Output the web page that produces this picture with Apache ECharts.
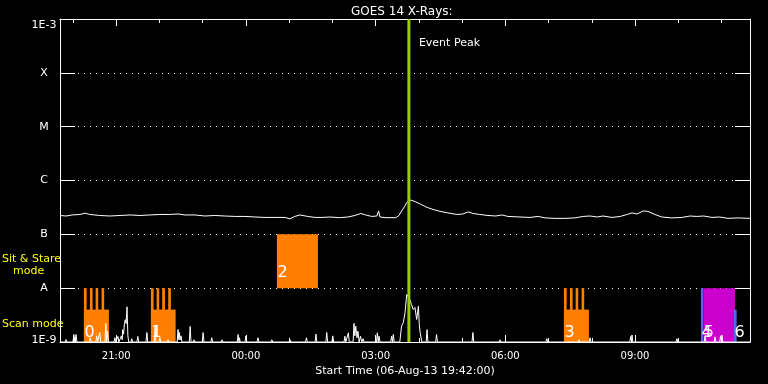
<!DOCTYPE html>
<html><head><meta charset="utf-8">
<script src="https://cdn.jsdelivr.net/npm/echarts@6/dist/echarts.min.js"></script>
<style>html,body{margin:0;padding:0;background:#000}#c{width:768px;height:384px}</style>
</head><body><div id="c"></div>
<script>
// ---- axis definitions (hours counted from 06-Aug-13 00:00) ----
const startHour = 19.7;   // 19:42
const endHour = 35.66;    // ~11:40 next day
const majorHours = [21, 24, 27, 30, 33];
const minorHours = [20, 21, 22, 23, 24, 25, 26, 27, 28, 29, 30, 31, 32, 33, 34, 35];
const yLevels = [-9, -8, -7, -6, -5, -4, -3];
const yLabels = ['1E-9', 'A', 'B', 'C', 'M', 'X', '1E-3'];

// ---- GOES flux (W/m^2) ----
const fluxData = [[19.70,2.24e-7],[19.84,2.19e-7],[19.98,2.29e-7],[20.16,2.34e-7],[20.28,2.47e-7],[20.39,2.34e-7],[20.62,2.24e-7],[20.85,2.19e-7],[21.09,2.24e-7],[21.32,2.29e-7],[21.55,2.24e-7],[21.78,2.29e-7],[22.01,2.34e-7],[22.24,2.34e-7],[22.43,2.39e-7],[22.59,2.29e-7],[22.82,2.29e-7],[23.05,2.19e-7],[23.28,2.24e-7],[23.51,2.19e-7],[23.74,2.15e-7],[23.98,2.15e-7],[24.21,2.10e-7],[24.44,2.06e-7],[24.67,2.06e-7],[24.90,2.06e-7],[25.02,1.94e-7],[25.13,2.15e-7],[25.25,2.29e-7],[25.43,2.15e-7],[25.60,2.06e-7],[25.76,2.06e-7],[25.94,2.10e-7],[26.17,2.04e-7],[26.36,2.10e-7],[26.52,2.24e-7],[26.66,2.44e-7],[26.77,2.29e-7],[26.91,2.15e-7],[27.03,2.19e-7],[27.07,2.72e-7],[27.10,2.10e-7],[27.24,2.04e-7],[27.47,2.04e-7],[27.54,2.24e-7],[27.61,2.78e-7],[27.68,3.37e-7],[27.72,3.92e-7],[27.77,4.33e-7],[27.84,4.27e-7],[27.93,4.00e-7],[28.03,3.67e-7],[28.19,3.16e-7],[28.33,2.90e-7],[28.49,2.67e-7],[28.67,2.50e-7],[28.88,2.34e-7],[29.02,2.39e-7],[29.14,2.61e-7],[29.25,2.44e-7],[29.41,2.34e-7],[29.60,2.24e-7],[29.78,2.19e-7],[29.92,2.29e-7],[30.06,2.15e-7],[30.34,2.10e-7],[30.57,2.06e-7],[30.76,2.15e-7],[30.92,2.02e-7],[31.15,1.98e-7],[31.38,1.98e-7],[31.61,2.02e-7],[31.80,2.15e-7],[31.96,2.19e-7],[32.12,2.10e-7],[32.26,2.19e-7],[32.47,2.06e-7],[32.66,2.15e-7],[32.82,2.34e-7],[32.93,2.50e-7],[33.05,2.39e-7],[33.19,2.72e-7],[33.30,2.67e-7],[33.46,2.34e-7],[33.62,2.10e-7],[33.85,2.02e-7],[34.09,2.06e-7],[34.27,2.19e-7],[34.43,2.15e-7],[34.59,2.19e-7],[34.78,2.06e-7],[34.96,2.10e-7],[35.15,1.98e-7],[35.38,2.02e-7],[35.66,1.98e-7]];

// ---- low-level spiky signal ----
const lowData = [[19.70,1e-9],[19.82,1e-9],[19.84,1.11e-9],[19.86,1e-9],[20.00,1e-9],[20.02,1.38e-9],[20.04,1e-9],[20.05,1.25e-9],[20.06,1e-9],[20.07,1.38e-9],[20.09,1e-9],[20.38,1e-9],[20.40,1.2e-9],[20.42,1e-9],[20.53,1e-9],[20.55,1.3e-9],[20.57,1e-9],[20.60,1e-9],[20.62,1.5e-9],[20.64,1e-9],[20.74,1e-9],[20.76,2.21e-9],[20.78,1e-9],[20.80,1.6e-9],[20.82,1e-9],[20.95,1e-9],[20.97,1.2e-9],[20.99,1e-9],[21.02,1e-9],[21.04,1.27e-9],[21.06,1e-9],[21.10,1e-9],[21.12,1.3e-9],[21.14,1.1e-9],[21.15,1.7e-9],[21.17,1.4e-9],[21.19,2.2e-9],[21.21,2.6e-9],[21.23,2.2e-9],[21.25,4.5e-9],[21.27,1.3e-9],[21.29,1e-9],[21.34,1e-9],[21.36,1.15e-9],[21.38,1e-9],[21.48,1e-9],[21.50,1.27e-9],[21.52,1e-9],[21.69,1e-9],[21.71,1.5e-9],[21.73,1e-9],[21.88,1e-9],[21.90,1.94e-9],[21.92,1e-9],[21.99,1e-9],[22.01,1.2e-9],[22.03,1e-9],[22.18,1e-9],[22.20,1.1e-9],[22.22,1e-9],[22.41,1e-9],[22.43,1.71e-9],[22.45,1.1e-9],[22.46,1.5e-9],[22.48,1.1e-9],[22.50,1.3e-9],[22.52,1e-9],[22.69,1e-9],[22.71,1.94e-9],[22.73,1e-9],[22.78,1e-9],[22.80,1.1e-9],[22.82,1e-9],[22.99,1e-9],[23.01,1.5e-9],[23.03,1e-9],[23.19,1e-9],[23.21,1.2e-9],[23.23,1e-9],[23.43,1e-9],[23.45,1.1e-9],[23.47,1e-9],[23.80,1e-9],[23.82,1.38e-9],[23.84,1e-9],[23.85,1.2e-9],[23.87,1e-9],[23.98,1e-9],[24.00,1.3e-9],[24.02,1e-9],[24.26,1e-9],[24.28,1.2e-9],[24.30,1e-9],[24.58,1e-9],[24.60,1.1e-9],[24.62,1e-9],[25.00,1e-9],[25.02,1.1e-9],[25.04,1e-9],[25.38,1e-9],[25.40,1.2e-9],[25.42,1e-9],[25.60,1e-9],[25.62,1.4e-9],[25.64,1e-9],[25.85,1e-9],[25.87,1.5e-9],[25.89,1e-9],[25.99,1e-9],[26.01,1.3e-9],[26.03,1e-9],[26.27,1e-9],[26.29,1.28e-9],[26.31,1e-9],[26.35,1e-9],[26.37,1.48e-9],[26.39,1e-9],[26.48,1e-9],[26.50,2.21e-9],[26.52,1.3e-9],[26.54,1.97e-9],[26.57,1.2e-9],[26.59,1.59e-9],[26.62,1e-9],[26.65,1.28e-9],[26.68,1e-9],[26.71,1.15e-9],[26.73,1e-9],[27.02,1e-9],[27.04,1.48e-9],[27.06,1e-9],[27.08,1.28e-9],[27.10,1e-9],[27.35,1e-9],[27.37,1.28e-9],[27.39,1e-9],[27.41,1.38e-9],[27.43,1e-9],[27.56,1e-9],[27.60,1.97e-9],[27.64,2.28e-9],[27.68,3.49e-9],[27.72,7.63e-9],[27.75,7.0e-9],[27.79,6.16e-9],[27.83,4.97e-9],[27.87,4.01e-9],[27.91,4.38e-9],[27.95,2.62e-9],[27.99,4.63e-9],[28.01,2.11e-9],[28.03,1.5e-9],[28.07,1e-9],[28.17,1e-9],[28.19,1.7e-9],[28.21,1e-9],[28.39,1e-9],[28.41,1.38e-9],[28.43,1e-9],[29.23,1e-9],[29.25,1.5e-9],[29.27,1e-9],[29.86,1e-9],[29.88,1.1e-9],[29.90,1e-9],[30.94,1e-9],[30.96,1.15e-9],[30.98,1e-9],[31.68,1e-9],[31.70,1.1e-9],[31.72,1e-9],[31.94,1e-9],[31.96,1.2e-9],[31.98,1e-9],[32.88,1e-9],[32.90,1.27e-9],[32.92,1e-9],[32.93,1.35e-9],[32.95,1e-9],[33.95,1e-9],[33.97,1.15e-9],[33.99,1e-9],[34.60,1e-9],[34.62,1.3e-9],[34.64,1e-9],[34.83,1e-9],[34.85,1.25e-9],[34.87,1e-9],[34.96,1e-9],[34.98,1.3e-9],[35.00,1e-9],[35.01,1.35e-9],[35.03,1e-9],[35.66,1e-9]];

// ---- observation blocks ----
const blockStart = [20.253, 21.803, 24.717, 31.356, 34.525, 34.578, 35.289];
const blockEnd   = [20.831, 22.374, 25.666, 31.934, 34.578, 35.312, 35.351];
const blockLow   = [1e-9, 1e-9, 1e-8, 1e-9, 1e-9, 1e-9, 1e-9];
const blockHigh  = [4e-9, 4e-9, 1e-7, 4e-9, 1e-8, 1e-8, 4e-9];
const blockGroup = [0, 0, 0, 0, 1, 2, 1];
const blockLabel = ['0', '1', '2', '3', '4', '5', '6'];
const toothStart = [20.253, 20.392, 20.524, 20.662, 21.803, 21.935, 22.064, 22.203, 31.356, 31.495, 31.627, 31.765];
const toothEnd   = [20.316, 20.454, 20.584, 20.722, 21.865, 21.995, 22.127, 22.265, 31.419, 31.557, 31.687, 31.825];
const toothLow = 1e-9, toothHigh = 1e-8;
const eventPeak = 27.77;

// ---- styles ----
const FONT = '"DejaVu Sans", sans-serif';
const blockPalette = ['#ff8000', '#5a62f0', '#cc00cc'];
const lg = v => Math.log10(v);
const white = { color: '#fff', width: 1 };
const fmtHour = v => { const h = Math.round(v) % 24; return (h < 10 ? '0' : '') + h + ':00'; };

const chart = echarts.init(document.getElementById('c'));
function xAx(pos, ticks, len, extra) {
  return Object.assign({
    type: 'value', min: startHour, max: endHour, position: pos,
    axisLine: { show: true, onZero: false, lineStyle: white },
    axisTick: { show: true, inside: true, length: len, customValues: ticks, lineStyle: white },
    axisLabel: { show: false }, splitLine: { show: false }
  }, extra || {});
}
const option = {
  backgroundColor: '#000',
  animation: false,
  title: { text: 'GOES 14 X-Rays:', left: 346, top: 1,
    textStyle: { color: '#fff', fontSize: 12, fontWeight: 'normal', fontFamily: FONT } },
  grid: { left: 60, right: 18, top: 19, bottom: 42 },
  xAxis: [
    xAx('bottom', minorHours, 4, {
      axisLabel: { show: true, customValues: majorHours, formatter: fmtHour, color: '#fff', fontSize: 10, fontFamily: FONT, margin: 9 },
      name: 'Start Time (06-Aug-13 19:42:00)', nameLocation: 'middle', nameGap: 20,
      nameTextStyle: { color: '#fff', fontSize: 11, fontFamily: FONT }
    }),
    xAx('bottom', majorHours, 7, { axisLine: { show: false } }),
    xAx('top', minorHours, 4),
    xAx('top', majorHours, 7, { axisLine: { show: false } })
  ],
  yAxis: [
    { type: 'value', min: -9, max: -3, interval: 1, position: 'left',
      axisLine: { show: true, onZero: false, lineStyle: white },
      axisTick: { show: true, inside: true, length: 15, lineStyle: white },
      axisLabel: { color: '#fff', fontSize: 11, fontFamily: FONT, margin: 16, align: 'center',
        formatter: v => { const i = yLevels.indexOf(Math.round(v)); const t = yLabels[i];
          if (i === 0) return '{lo|' + t + '}'; if (i === yLevels.length - 1) return '{hi|' + t + '}'; return t; },
        rich: { lo: { color: '#fff', fontSize: 11, fontFamily: FONT, padding: [0, 0, 4, 0] },
                hi: { color: '#fff', fontSize: 11, fontFamily: FONT, padding: [13, 0, 0, 0] } } },
      splitLine: { show: true, lineStyle: { color: '#fff', width: 1, type: [1, 5] } } },
    { type: 'value', min: -9, max: -3, interval: 1, position: 'right',
      axisLine: { show: true, onZero: false, lineStyle: white },
      axisTick: { show: true, inside: true, length: 15, lineStyle: white },
      axisLabel: { show: false }, splitLine: { show: false } }
  ],
  graphic: [
    { type: 'text', x: 2, y: 259, style: { text: 'Sit & Stare', fill: '#ffff00', font: '11px ' + FONT, verticalAlign: 'middle' } },
    { type: 'text', x: 13, y: 271, style: { text: 'mode', fill: '#ffff00', font: '11px ' + FONT, verticalAlign: 'middle' } },
    { type: 'text', x: 2, y: 324, style: { text: 'Scan mode', fill: '#ffff00', font: '11px ' + FONT, verticalAlign: 'middle' } }
  ],
  series: [
    { type: 'custom', name: 'teeth', xAxisIndex: 0, yAxisIndex: 0, z: 1, silent: true,
      data: toothStart.map((s, i) => [s, toothEnd[i], lg(toothLow), lg(toothHigh)]),
      renderItem: (p, api) => {
        const a = api.coord([api.value(0), api.value(3)]), b = api.coord([api.value(1), api.value(2)]);
        return { type: 'rect', shape: { x: a[0], y: a[1], width: b[0] - a[0], height: b[1] - a[1] }, style: { fill: blockPalette[0] } };
      } },
    { type: 'custom', name: 'blocks', xAxisIndex: 0, yAxisIndex: 0, z: 1, silent: true,
      data: blockStart.map((s, i) => [s, blockEnd[i], lg(blockLow[i]), lg(blockHigh[i]), i]),
      renderItem: (p, api) => {
        const i = api.value(4);
        const a = api.coord([api.value(0), api.value(3)]), b = api.coord([api.value(1), api.value(2)]);
        return { type: 'rect', shape: { x: a[0], y: a[1], width: b[0] - a[0], height: b[1] - a[1] }, style: { fill: blockPalette[blockGroup[i]] } };
      } },
    { type: 'custom', name: 'labels', xAxisIndex: 0, yAxisIndex: 0, z: 2, silent: true,
      data: blockStart.map((s, i) => [s, lg(blockLow[i]), i]),
      renderItem: (p, api) => {
        const i = api.value(2);
        const a = api.coord([api.value(0), api.value(1)]);
        const lift = blockLow[i] > 1e-9 ? 7 : 1;
        return { type: 'text', x: a[0] + 0.5, y: a[1] - lift,
          style: { text: blockLabel[i], fill: '#fff', font: '16px ' + FONT, align: 'left', verticalAlign: 'bottom' } };
      } },
    { type: 'line', name: 'flux', xAxisIndex: 0, yAxisIndex: 0, z: 3, showSymbol: false, silent: true,
      data: fluxData.map(d => [d[0], lg(d[1])]), lineStyle: { color: '#fff', width: 1 } },
    { type: 'line', name: 'low', xAxisIndex: 0, yAxisIndex: 0, z: 3, showSymbol: false, silent: true,
      data: lowData.map(d => [d[0], lg(d[1])]), lineStyle: { color: '#fff', width: 1 } },
    { type: 'custom', name: 'event', xAxisIndex: 0, yAxisIndex: 0, z: 4, silent: true,
      data: [[eventPeak]],
      renderItem: (p, api) => {
        const t = api.coord([api.value(0), -3]), b = api.coord([api.value(0), -9]);
        return { type: 'group', children: [
          { type: 'line', shape: { x1: t[0], y1: t[1], x2: b[0], y2: b[1] }, style: { stroke: '#99cc00', lineWidth: 3 } },
          { type: 'text', x: t[0] + 10, y: t[1] + 24, style: { text: 'Event Peak', fill: '#fff', font: '11px ' + FONT, verticalAlign: 'middle' } }
        ] };
      } }
  ]
};
chart.setOption(option);
</script></body></html>
